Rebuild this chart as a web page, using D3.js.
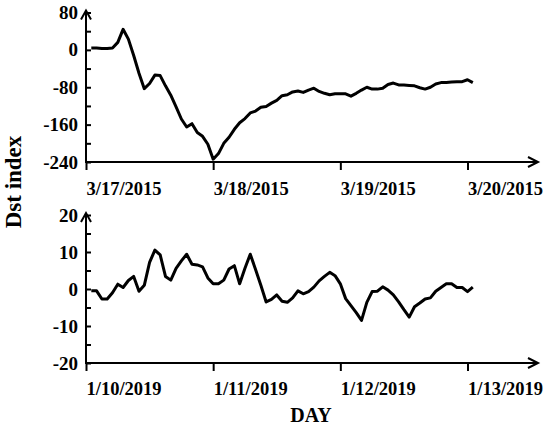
<!DOCTYPE html>
<html>
<head>
<meta charset="utf-8">
<script src="https://cdn.jsdelivr.net/npm/d3@7"></script>
<style>
  body { margin: 0; background: #fff; }
  text { font-family: "Liberation Serif", "Times New Roman", serif; font-weight: bold; }
</style>
</head>
<body>
<script>
// hourly Dst, hours 1..73 after first day 00:00
var dst2015 = [4, 4, 3, 3, 4, 16, 44, 23, -12, -50, -83, -72, -54, -55, -77, -97, -122, -148, -165, -158,
  -177, -185, -202, -234, -222, -200, -187, -170, -156, -147, -135, -131, -123, -121, -114, -108, -98, -96, -90, -88,
  -91, -86, -82, -89, -93, -96, -94, -94, -94, -99, -93, -86, -80, -84, -84, -82, -74, -71, -75, -75,
  -76, -77, -81, -84, -80, -73, -70, -70, -69, -68, -68, -64, -70];
var dst2019 = [-0.5, -0.5, -2.7, -2.7, -1, 1.3, 0.4, 2.3, 3.4, -0.6, 1.0, 7.2, 10.5, 9.2, 3.4, 2.4, 5.6, 7.6, 9.4, 6.7,
  6.5, 6.0, 3.0, 1.4, 1.4, 2.4, 5.4, 6.3, 1.4, 5.6, 9.4, 5.3, 1.0, -3.5, -2.8, -1.6, -3.3, -3.6, -2.4, -0.5,
  -1.3, -0.7, 0.5, 2.2, 3.4, 4.5, 3.6, 1.4, -2.6, -4.5, -6.4, -8.5, -3.6, -0.7, -0.6, 0.6, -0.3, -1.6, -3.5, -5.6,
  -7.6, -4.8, -3.8, -2.7, -2.4, -0.6, 0.4, 1.4, 1.4, 0.4, 0.4, -0.7, 0.5];
var days2015 = ["3/17/2015", "3/18/2015", "3/19/2015", "3/20/2015"];
var days2019 = ["1/10/2019", "1/11/2019", "1/12/2019", "1/13/2019"];
var yTicks2015 = d3.range(-240, 81, 40);
var yTicks2019 = d3.range(-20, 21, 5);

var svg = d3.select("body").append("svg")
  .attr("width", 550)
  .attr("height", 426);

var x0 = 86, xEnd = 537;

function panel(data, days, yTicks, yDomain, yTop, yBottom, labelStep, pad) {
  var g = svg.append("g");
  var x = d3.scaleLinear().domain([0, 72]).range([x0, 467.5]);
  var y = d3.scaleLinear().domain(yDomain).range([yBottom, yTop]);

  // y axis, ticks pointing inward
  var yAxis = d3.axisLeft(y)
    .tickValues(yTicks)
    .tickSize(-5)
    .tickPadding(8)
    .tickFormat(function(d){ return d % labelStep === 0 ? d : ""; });
  var ya = g.append("g").attr("transform", "translate(" + x0 + ",0)").call(yAxis);
  ya.select(".domain").remove();
  ya.selectAll("line").attr("stroke", "#000").attr("stroke-width", 2);
  ya.selectAll("text").attr("font-size", 19).attr("fill", "#000");

  // x labels start at the tick
  var xAxis = d3.axisBottom(x)
    .tickValues([0, 24, 48, 72])
    .tickSize(8)
    .tickPadding(pad)
    .tickFormat(function(d, i){ return days[i]; });
  var xa = g.append("g").attr("transform", "translate(0," + yBottom + ")").call(xAxis);
  xa.select(".domain").remove();
  xa.selectAll("line").attr("stroke", "#000").attr("stroke-width", 2);
  xa.selectAll("text").attr("font-size", 18.5).attr("fill", "#000").attr("text-anchor", "start");

  // axis lines with arrow heads
  g.append("path")
    .attr("d", "M" + x0 + "," + (yTop - 1) + "V" + yBottom + "H" + xEnd)
    .attr("fill", "none").attr("stroke", "#000").attr("stroke-width", 2);
  g.append("path")
    .attr("d", "M" + (x0 - 5) + "," + (yTop + 7) + "L" + x0 + "," + (yTop - 2) + "L" + (x0 + 5) + "," + (yTop + 7))
    .attr("fill", "none").attr("stroke", "#000").attr("stroke-width", 2);
  g.append("path")
    .attr("d", "M" + (xEnd - 9) + "," + (yBottom - 5) + "L" + (xEnd + 1) + "," + yBottom + "L" + (xEnd - 9) + "," + (yBottom + 5))
    .attr("fill", "none").attr("stroke", "#000").attr("stroke-width", 2);

  var line = d3.line()
    .x(function(d, i){ return x(i + 1); })
    .y(function(d){ return y(d); });
  g.append("path")
    .datum(data)
    .attr("d", line)
    .attr("fill", "none")
    .attr("stroke", "#000")
    .attr("stroke-width", 3)
    .attr("stroke-linejoin", "round");
}

panel(dst2015, days2015, yTicks2015, [-240, 80], 12.5, 162, 80, 12);
panel(dst2019, days2019, yTicks2019, [-20, 20], 215, 363, 10, 11);

svg.append("text")
  .attr("transform", "translate(21,182) rotate(-90)")
  .attr("text-anchor", "middle")
  .attr("font-size", 23)
  .text("Dst index");

svg.append("text")
  .attr("x", 311)
  .attr("y", 422)
  .attr("text-anchor", "middle")
  .attr("font-size", 20)
  .text("DAY");
</script>
</body>
</html>
